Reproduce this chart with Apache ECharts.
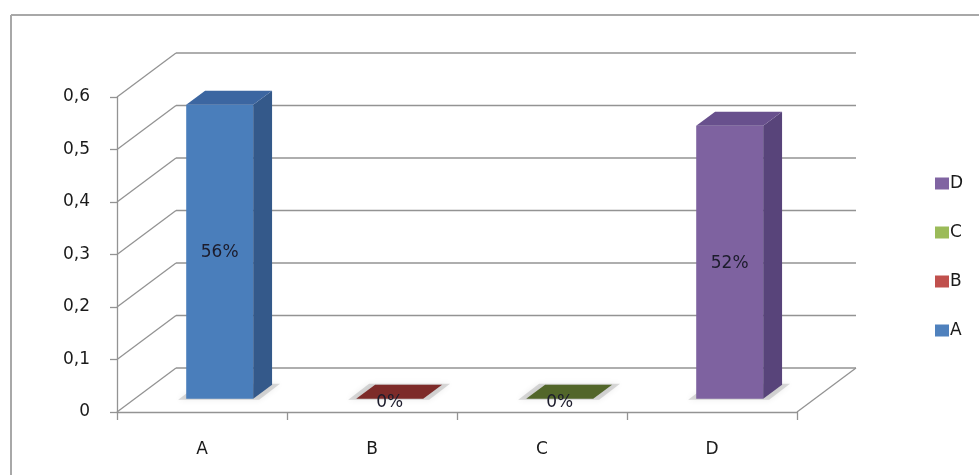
<!DOCTYPE html>
<html>
<head>
<meta charset="utf-8">
<script src="https://cdn.jsdelivr.net/npm/echarts@6/dist/echarts.min.js"></script>
<style>
  html, body { margin: 0; padding: 0; background: #ffffff; overflow: hidden; }
  #chart { width: 979px; height: 475px; }
</style>
</head>
<body>
<div id="chart"></div>
<script>
// Categories and their shares (fraction of 1)
const categories = ['A', 'B', 'C', 'D'];
const shares = [0.56, 0, 0, 0.52];
// Value-axis ticks
const yTicks = [0, 0.1, 0.2, 0.3, 0.4, 0.5, 0.6];
// Legend order (top to bottom)
const legendOrder = ['D', 'C', 'B', 'A'];

// Face colours for each column: front, side, top
const frontColors = ['#4a7ebb', '#b24a47', '#8fae50', '#7e62a0'];
const sideColors  = ['#34598a', '#7e2c2a', '#5e7430', '#58447a'];
const topColors   = ['#3c66a1', '#7d2b29', '#52662a', '#68508d'];
const legendColors = ['#4F81BD', '#C0504D', '#9BBB59', '#8064A2'];

// Oblique depth vector of the plot box and where the columns sit in depth
const DEPTH = [59, -44];
const Z0 = 0.3, Z1 = 0.62;
const FONT = 'DejaVu Sans';
const LINE = '#939393';
const TEXT = '#1a1a1a';

const chart = echarts.init(document.getElementById('chart'), null, { renderer: 'canvas' });

function fmtTick(v) {
  return v === 0 ? '0' : v.toFixed(1).replace('.', ',');
}
function fmtPct(v) {
  return Math.round(v * 100) + '%';
}

// Side wall diagonals, back wall gridlines and floor edge
function renderFrame(params, api) {
  const cs = params.coordSys;
  const v = api.value(0);
  const y = api.coord([0, v])[1];
  const xl = cs.x, xr = cs.x + cs.width;
  const children = [
    { type: 'line', shape: { x1: xl, y1: y, x2: xl + DEPTH[0], y2: y + DEPTH[1] },
      style: { stroke: LINE, lineWidth: 1.3 } },
    { type: 'line', shape: { x1: xl + DEPTH[0], y1: y + DEPTH[1], x2: xr + DEPTH[0], y2: y + DEPTH[1] },
      style: { stroke: LINE, lineWidth: 1.3 } }
  ];
  if (v === 0) {
    children.push({ type: 'line', shape: { x1: xr, y1: y, x2: xr + DEPTH[0], y2: y + DEPTH[1] },
      style: { stroke: LINE, lineWidth: 1.3 } });
  }
  return { type: 'group', children: children };
}

function makeColumnRenderer(idx) {
  return function (params, api) {
    const ci = api.value(0);
    const val = api.value(1);
    const top = api.coord([ci, val]);
    const base = api.coord([ci, 0]);
    const w = api.size([1, 0])[0] * 0.394;
    const x0 = top[0] - w / 2 + DEPTH[0] * Z0;
    const x1 = x0 + w;
    const yTop = top[1] + DEPTH[1] * Z0;
    const yBot = base[1] + DEPTH[1] * Z0;
    const bx = DEPTH[0] * (Z1 - Z0), by = DEPTH[1] * (Z1 - Z0);
    const h = yBot - yTop;
    const children = [];
    // soft floor shadow under the column
    children.push({
      type: 'polygon',
      shape: { points: [[x0 - 8, yBot + 1], [x1 + 6, yBot + 1], [x1 + bx + 8, yBot + by - 1], [x0 + bx - 6, yBot + by - 1]] },
      style: { fill: 'rgba(110,110,110,0.25)', shadowBlur: 6, shadowColor: 'rgba(0,0,0,0.3)' },
      silent: true
    });
    if (h > 0.5) {
      children.push({ type: 'rect', shape: { x: x0, y: yTop, width: w, height: h },
        style: { fill: frontColors[idx] } });
      children.push({ type: 'polygon',
        shape: { points: [[x1, yTop], [x1 + bx, yTop + by], [x1 + bx, yBot + by], [x1, yBot]] },
        style: { fill: sideColors[idx] } });
    }
    children.push({ type: 'polygon',
      shape: { points: [[x0, yTop], [x1, yTop], [x1 + bx, yTop + by], [x0 + bx, yTop + by]] },
      style: { fill: topColors[idx] } });
    children.push({ type: 'text',
      style: {
        text: fmtPct(val),
        x: (x0 + x1) / 2,
        y: h > 0.5 ? (yTop + yBot) / 2 + 1 : yBot + 4,
        align: 'center', verticalAlign: 'middle',
        fontFamily: FONT, fontSize: 17, fill: '#1c1c2c'
      } });
    return { type: 'group', children: children };
  };
}

const series = [{
  type: 'custom',
  name: 'frame',
  silent: true,
  z: 1,
  data: yTicks.map(function (t) { return [t]; }),
  renderItem: renderFrame
}];

categories.forEach(function (cat, i) {
  series.push({
    type: 'custom',
    name: cat,
    z: 5,
    itemStyle: { color: legendColors[i] },
    data: [[i, shares[i]]],
    renderItem: makeColumnRenderer(i)
  });
});

chart.setOption({
  animation: false,
  backgroundColor: '#ffffff',
  graphic: [
    { type: 'line', shape: { x1: 11, y1: 15, x2: 995, y2: 15 },
      style: { stroke: '#a8a8a8', lineWidth: 2 }, z: 0 },
    { type: 'line', shape: { x1: 11, y1: 15, x2: 11, y2: 490 },
      style: { stroke: '#a8a8a8', lineWidth: 2 }, z: 0 }
  ],
  grid: { left: 117, top: 97, width: 680, height: 315, containLabel: false },
  legend: {
    data: legendOrder,
    orient: 'vertical',
    left: 930,
    top: 170,
    itemWidth: 14,
    itemHeight: 12,
    itemGap: 32,
    icon: 'rect',
    textStyle: { fontFamily: FONT, fontSize: 17, color: TEXT, padding: [0, 0, 0, -4], lineHeight: 16 },
    selectedMode: false
  },
  xAxis: {
    type: 'category',
    data: categories,
    boundaryGap: true,
    axisLine: { show: true, lineStyle: { color: LINE, width: 1.3 } },
    axisTick: { show: true, alignWithLabel: false, length: 8, lineStyle: { color: LINE, width: 1.3 } },
    axisLabel: { margin: 29, fontFamily: FONT, fontSize: 17, color: TEXT },
    splitLine: { show: false }
  },
  yAxis: {
    type: 'value',
    min: 0,
    max: 0.6,
    interval: 0.1,
    axisLine: { show: true, lineStyle: { color: LINE, width: 1.3 } },
    axisTick: { show: true, length: 7, lineStyle: { color: LINE, width: 1.3 } },
    axisLabel: { margin: 27, fontFamily: FONT, fontSize: 17, color: TEXT, formatter: fmtTick },
    splitLine: { show: false }
  },
  series: series
});
</script>
</body>
</html>
